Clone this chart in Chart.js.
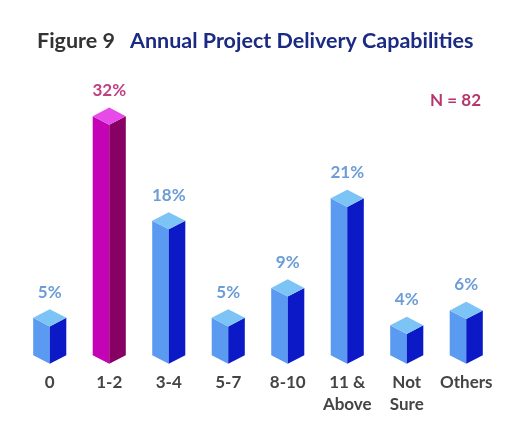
<!DOCTYPE html>
<html>
<head>
<meta charset="utf-8">
<script src="https://cdn.jsdelivr.net/npm/chart.js@4"></script>
<style>
html,body{margin:0;padding:0;background:#fff;}
#wrap{width:530px;height:435px;position:relative;}
</style>
</head>
<body>
<div id="wrap"><canvas id="c"></canvas></div>
<script>
const categories = ["0", "1-2", "3-4", "5-7", "8-10", ["11 &", "Above"], ["Not", "Sure"], "Others"];
const values = [5, 32, 18, 5, 9, 21, 4, 6];
const highlightIndex = 1;
const titlePrefix = "Figure 9";
const titleMain = "Annual Project Delivery Capabilities";
const sampleNote = "N = 82";

const blue = {top: "#7cc3f6", left: "#5a9bf1", right: "#0b19c6", label: "#6c9dd6"};
const pink = {top: "#e64ae9", left: "#c403b6", right: "#870063", label: "#bf3f80"};

const prismPlugin = {
  id: "prism",
  afterDatasetsDraw(chart) {
    const ctx = chart.ctx;
    const meta = chart.getDatasetMeta(0);
    meta.data.forEach((el, i) => {
      const p = el.getProps(["x", "y", "base", "width"], true);
      const hw = p.width / 2;
      const d = hw * 0.52;
      const x = p.x, y = p.y, b = p.base;
      const c = i === highlightIndex ? pink : blue;
      ctx.save();
      ctx.beginPath();
      ctx.moveTo(x - hw, y - d); ctx.lineTo(x, y); ctx.lineTo(x, b); ctx.lineTo(x - hw, b - d); ctx.closePath();
      ctx.fillStyle = c.left; ctx.fill();
      ctx.beginPath();
      ctx.moveTo(x + hw, y - d); ctx.lineTo(x, y); ctx.lineTo(x, b); ctx.lineTo(x + hw, b - d); ctx.closePath();
      ctx.fillStyle = c.right; ctx.fill();
      ctx.beginPath();
      ctx.moveTo(x - hw, y - d); ctx.lineTo(x, y - 2 * d); ctx.lineTo(x + hw, y - d); ctx.lineTo(x, y); ctx.closePath();
      ctx.fillStyle = c.top; ctx.fill();
      ctx.font = "bold 17px Lato";
      ctx.fillStyle = c.label;
      ctx.textAlign = "center";
      ctx.textBaseline = "middle";
      ctx.fillText(values[i] + "%", x, y - 2 * d - 17);
      ctx.restore();
    });
  },
  afterDraw(chart) {
    const ctx = chart.ctx;
    ctx.save();
    ctx.textBaseline = "middle";
    ctx.textAlign = "left";
    ctx.font = "bold 21.5px Lato";
    ctx.fillStyle = "#333333";
    ctx.fillText(titlePrefix, 37, 41);
    ctx.fillStyle = "#1b2a82";
    ctx.fillText(titleMain, 130, 41);
    ctx.font = "bold 17px Lato";
    ctx.fillStyle = "#b8346c";
    ctx.textAlign = "right";
    ctx.fillText(sampleNote, 481, 101);
    ctx.restore();
  }
};

new Chart(document.getElementById("c"), {
  type: "bar",
  data: {
    labels: categories,
    datasets: [{
      data: values,
      backgroundColor: "rgba(0,0,0,0)",
      borderWidth: 0,
      categoryPercentage: 1,
      barPercentage: 0.556
    }]
  },
  options: {
    responsive: true,
    maintainAspectRatio: false,
    animation: false,
    devicePixelRatio: 1,
    layout: {padding: {top: 65, left: 20, right: 34, bottom: 19}},
    plugins: {legend: {display: false}, tooltip: {enabled: false}, title: {display: false}},
    scales: {
      x: {
        grid: {display: false},
        border: {display: false},
        ticks: {
          color: "#444444",
          padding: 0,
          maxRotation: 0,
          autoSkip: false,
          font: {family: "Lato", weight: "bold", size: 17, lineHeight: 1.3}
        }
      },
      y: {display: false, min: 0, max: 40}
    }
  },
  plugins: [prismPlugin]
});
</script>
</body>
</html>
